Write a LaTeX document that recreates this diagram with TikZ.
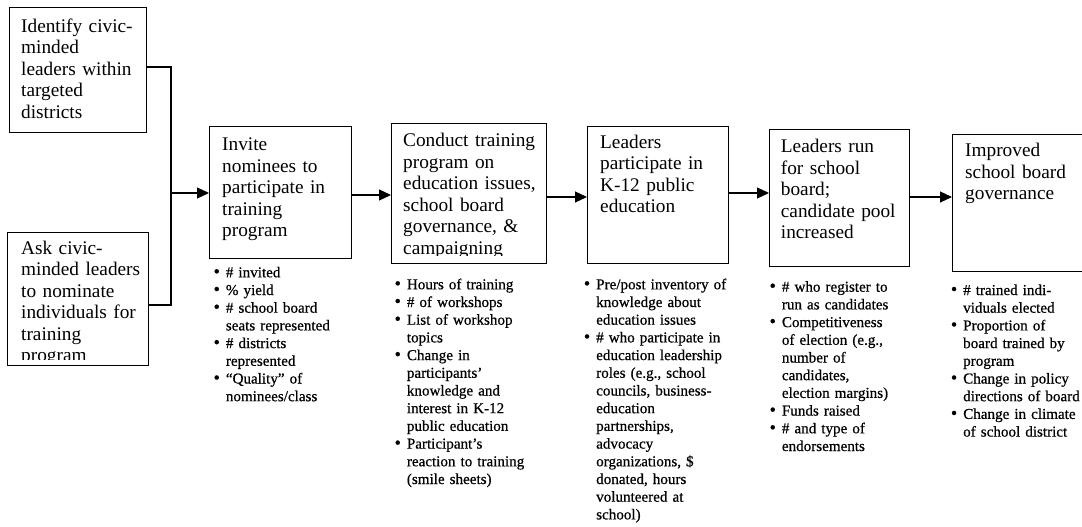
\documentclass[tikz,border=0pt]{standalone}
\usepackage{fontspec}
\setmainfont{Liberation Serif}
\newfontfamily\bulfont[FakeBold=0.6]{Liberation Serif}
\usetikzlibrary{arrows.meta}
\newcommand\bu{\leavevmode\llap{{\fontsize{18}{18}\selectfont\textbullet}\hspace{6pt}}}
\begin{document}
\begin{tikzpicture}[x=1pt,y=-1pt,
 boxframe/.style={draw, line width=1.3pt, inner sep=0pt, anchor=north west},
 boxtext/.style={anchor=base west, inner sep=0pt, text width=180pt, align=left, font=\fontsize{19.3}{21.5}\selectfont},
 bultext/.style={anchor=base west, inner sep=0pt, text width=200pt, align=left, font=\bulfont\fontsize{15.1}{17.7}\selectfont},
 conn/.style={line width=1.2pt},
 arr/.style={line width=1.2pt, -{Triangle[length=12pt,width=11pt]}}]
\clip (0,0) rectangle (1082,527);
\fill[white] (0,0) rectangle (1082,527);
% boxes
\node[boxframe, minimum width=137pt, minimum height=125pt] (ident) at (9,7) {};
\node[boxframe, minimum width=141pt, minimum height=133pt] (ask) at (7,232) {};
\node[boxframe, minimum width=142pt, minimum height=132pt] (invite) at (209,126) {};
\node[boxframe, minimum width=155pt, minimum height=140pt] (conduct) at (391,123) {};
\node[boxframe, minimum width=141pt, minimum height=137pt] (leaders) at (587,126) {};
\node[boxframe, minimum width=140pt, minimum height=137pt] (run) at (769,129) {};
\node[boxframe, minimum width=160pt, minimum height=137pt] (improved) at (952,134) {};
% box texts
\node[boxtext] (identT) at (21,32.3) {Identify civic-\\minded\\leaders within\\targeted\\districts};
\begin{scope}
\clip (9,233) rectangle (147,359);
\node[boxtext] (askT) at (21,254.3) {Ask civic-\\minded leaders\\to nominate\\individuals for\\training\\program};
\end{scope}
\node[boxtext] (inviteT) at (222,150.7) {Invite\\nominees to\\participate in\\training\\program};
\begin{scope}
\clip (392,124) rectangle (545,255.5);
\node[boxtext] (conductT) at (403,146.7) {Conduct training\\program on\\education issues,\\school board\\governance, \&\\campaigning};
\end{scope}
\node[boxtext] (leadersT) at (600,148) {Leaders\\participate in\\K-12 public\\education};
\node[boxtext] (runT) at (780.7,152.7) {Leaders run\\for school\\board;\\candidate pool\\increased};
\node[boxtext] (improvedT) at (965,156.7) {Improved\\school board\\governance};
% bullet lists
\node[bultext] (inviteL) at (225.7,277.3) {\bu\# invited\\\bu\% yield\\\bu\# school board\\seats represented\\\bu\# districts\\represented\\\bu“Quality” of\\nominees/class};
\node[bultext] (conductL) at (406.7,289.3) {\bu Hours of training\\\bu\# of workshops\\\bu List of workshop\\topics\\\bu Change in\\participants’\\knowledge and\\interest in K-12\\public education\\\bu Participant’s\\reaction to training\\(smile sheets)};
\node[bultext] (leadersL) at (596,289.3) {\bu Pre/post inventory of\\knowledge about\\education issues\\\bu\# who participate in\\education leadership\\roles (e.g., school\\councils, business-\\education\\partnerships,\\advocacy\\organizations, \$\\donated, hours\\volunteered at\\school)};
\node[bultext] (runL) at (781.7,291.7) {\bu\# who register to\\run as candidates\\\bu Competitiveness\\of election (e.g.,\\number of\\candidates,\\election margins)\\\bu Funds raised\\\bu\# and type of\\endorsements};
\node[bultext] (improvedL) at (963,295) {\bu\# trained indi-\\viduals elected\\\bu Proportion of\\board trained by\\program\\\bu Change in policy\\directions of board\\\bu Change in climate\\of school district};
% connectors
\coordinate (jt) at (171,67);
\coordinate (jb) at (171,305);
\coordinate (jm) at (171,193);
\draw[conn] (ident.east |- jt) -- (jt) -- (jb) -- (ask.east |- jb);
\draw[arr] (jm) -- (invite.west |- jm);
\coordinate (a1) at (0,195);
\coordinate (a2) at (0,197);
\coordinate (a3) at (0,193);
\coordinate (a4) at (0,197);
\draw[arr] (invite.east |- a1) -- (conduct.west |- a1);
\draw[arr] (conduct.east |- a2) -- (leaders.west |- a2);
\draw[arr] (leaders.east |- a3) -- (run.west |- a3);
\draw[arr] (run.east |- a4) -- (improved.west |- a4);
\end{tikzpicture}
\end{document}
